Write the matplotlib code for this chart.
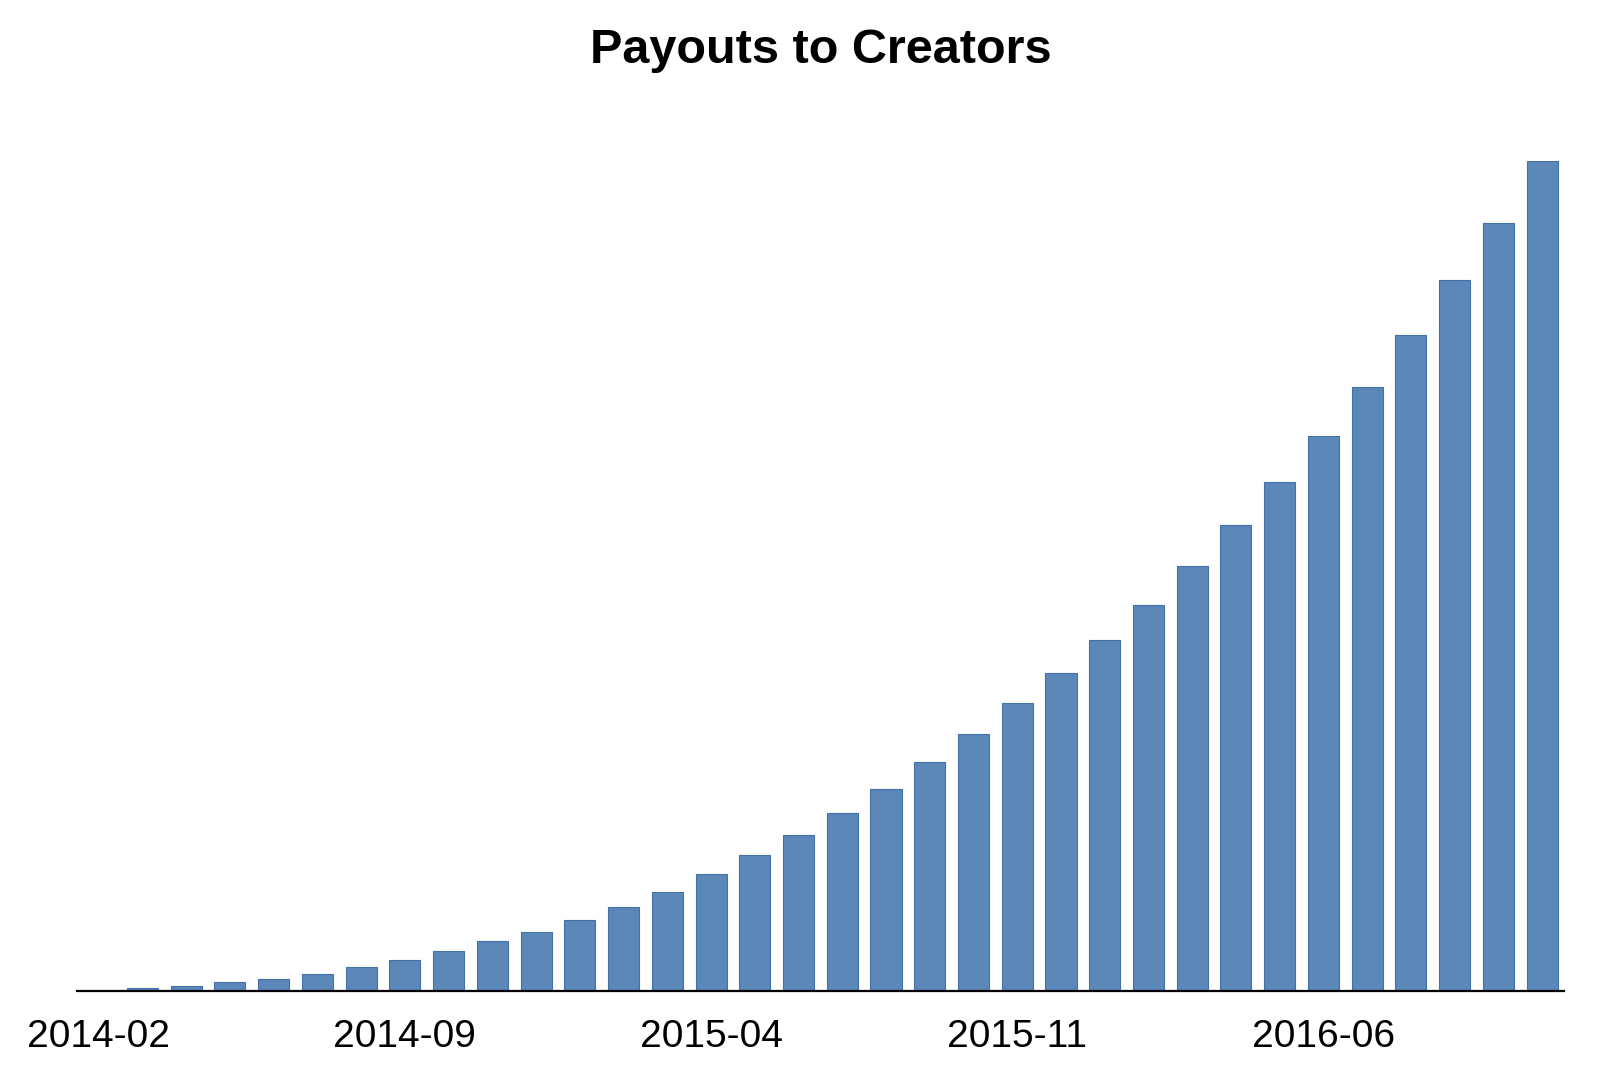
import matplotlib
matplotlib.use("Agg")
import matplotlib.pyplot as plt

# monthly payouts (arbitrary units), 2014-02 .. 2016-11
months = ['2014-02', '2014-03', '2014-04', '2014-05', '2014-06', '2014-07',
          '2014-08', '2014-09', '2014-10', '2014-11', '2014-12', '2015-01',
          '2015-02', '2015-03', '2015-04', '2015-05', '2015-06', '2015-07',
          '2015-08', '2015-09', '2015-10', '2015-11', '2015-12', '2016-01',
          '2016-02', '2016-03', '2016-04', '2016-05', '2016-06', '2016-07',
          '2016-08', '2016-09', '2016-10', '2016-11']
payouts = [0, 2.7, 4.7, 8.3, 12, 16.7, 23.7, 31, 39.5, 49.5,
           59, 70.7, 84, 98.3, 116.7, 135.7, 156, 178, 202, 229,
           257, 287.4, 318, 350.7, 386, 424.4, 465.4, 508.7, 554.7, 603.7,
           656, 710.7, 767.7, 830]
tick_months = ['2014-02', '2014-09', '2015-04', '2015-11', '2016-06']

fig = plt.figure(figsize=(16, 10.69), dpi=100)
ax = fig.add_axes([0.048, 0.0732, 0.9295, 0.7765])

x = list(range(len(months)))
ax.bar(x, payouts, width=0.71, color='#5b87b9', edgecolor='#4470aa', linewidth=0.8)

ax.set_xlim(-0.5, len(months) - 0.5)
ax.set_ylim(0, max(payouts))

ax.set_xticks([months.index(m) for m in tick_months])
ax.set_xticklabels(tick_months, fontsize=28, family='Liberation Sans')
ax.tick_params(axis='x', length=0, pad=20)
ax.set_yticks([])

for s in ['top', 'right', 'left']:
    ax.spines[s].set_visible(False)
ax.spines['bottom'].set_linewidth(1.6)
ax.spines['bottom'].set_color('black')

fig.text(0.513, 0.9415, 'Payouts to Creators', ha='center', va='baseline',
         fontsize=35, fontweight='bold', family='Liberation Sans')

fig.savefig('out.png', dpi=100)
